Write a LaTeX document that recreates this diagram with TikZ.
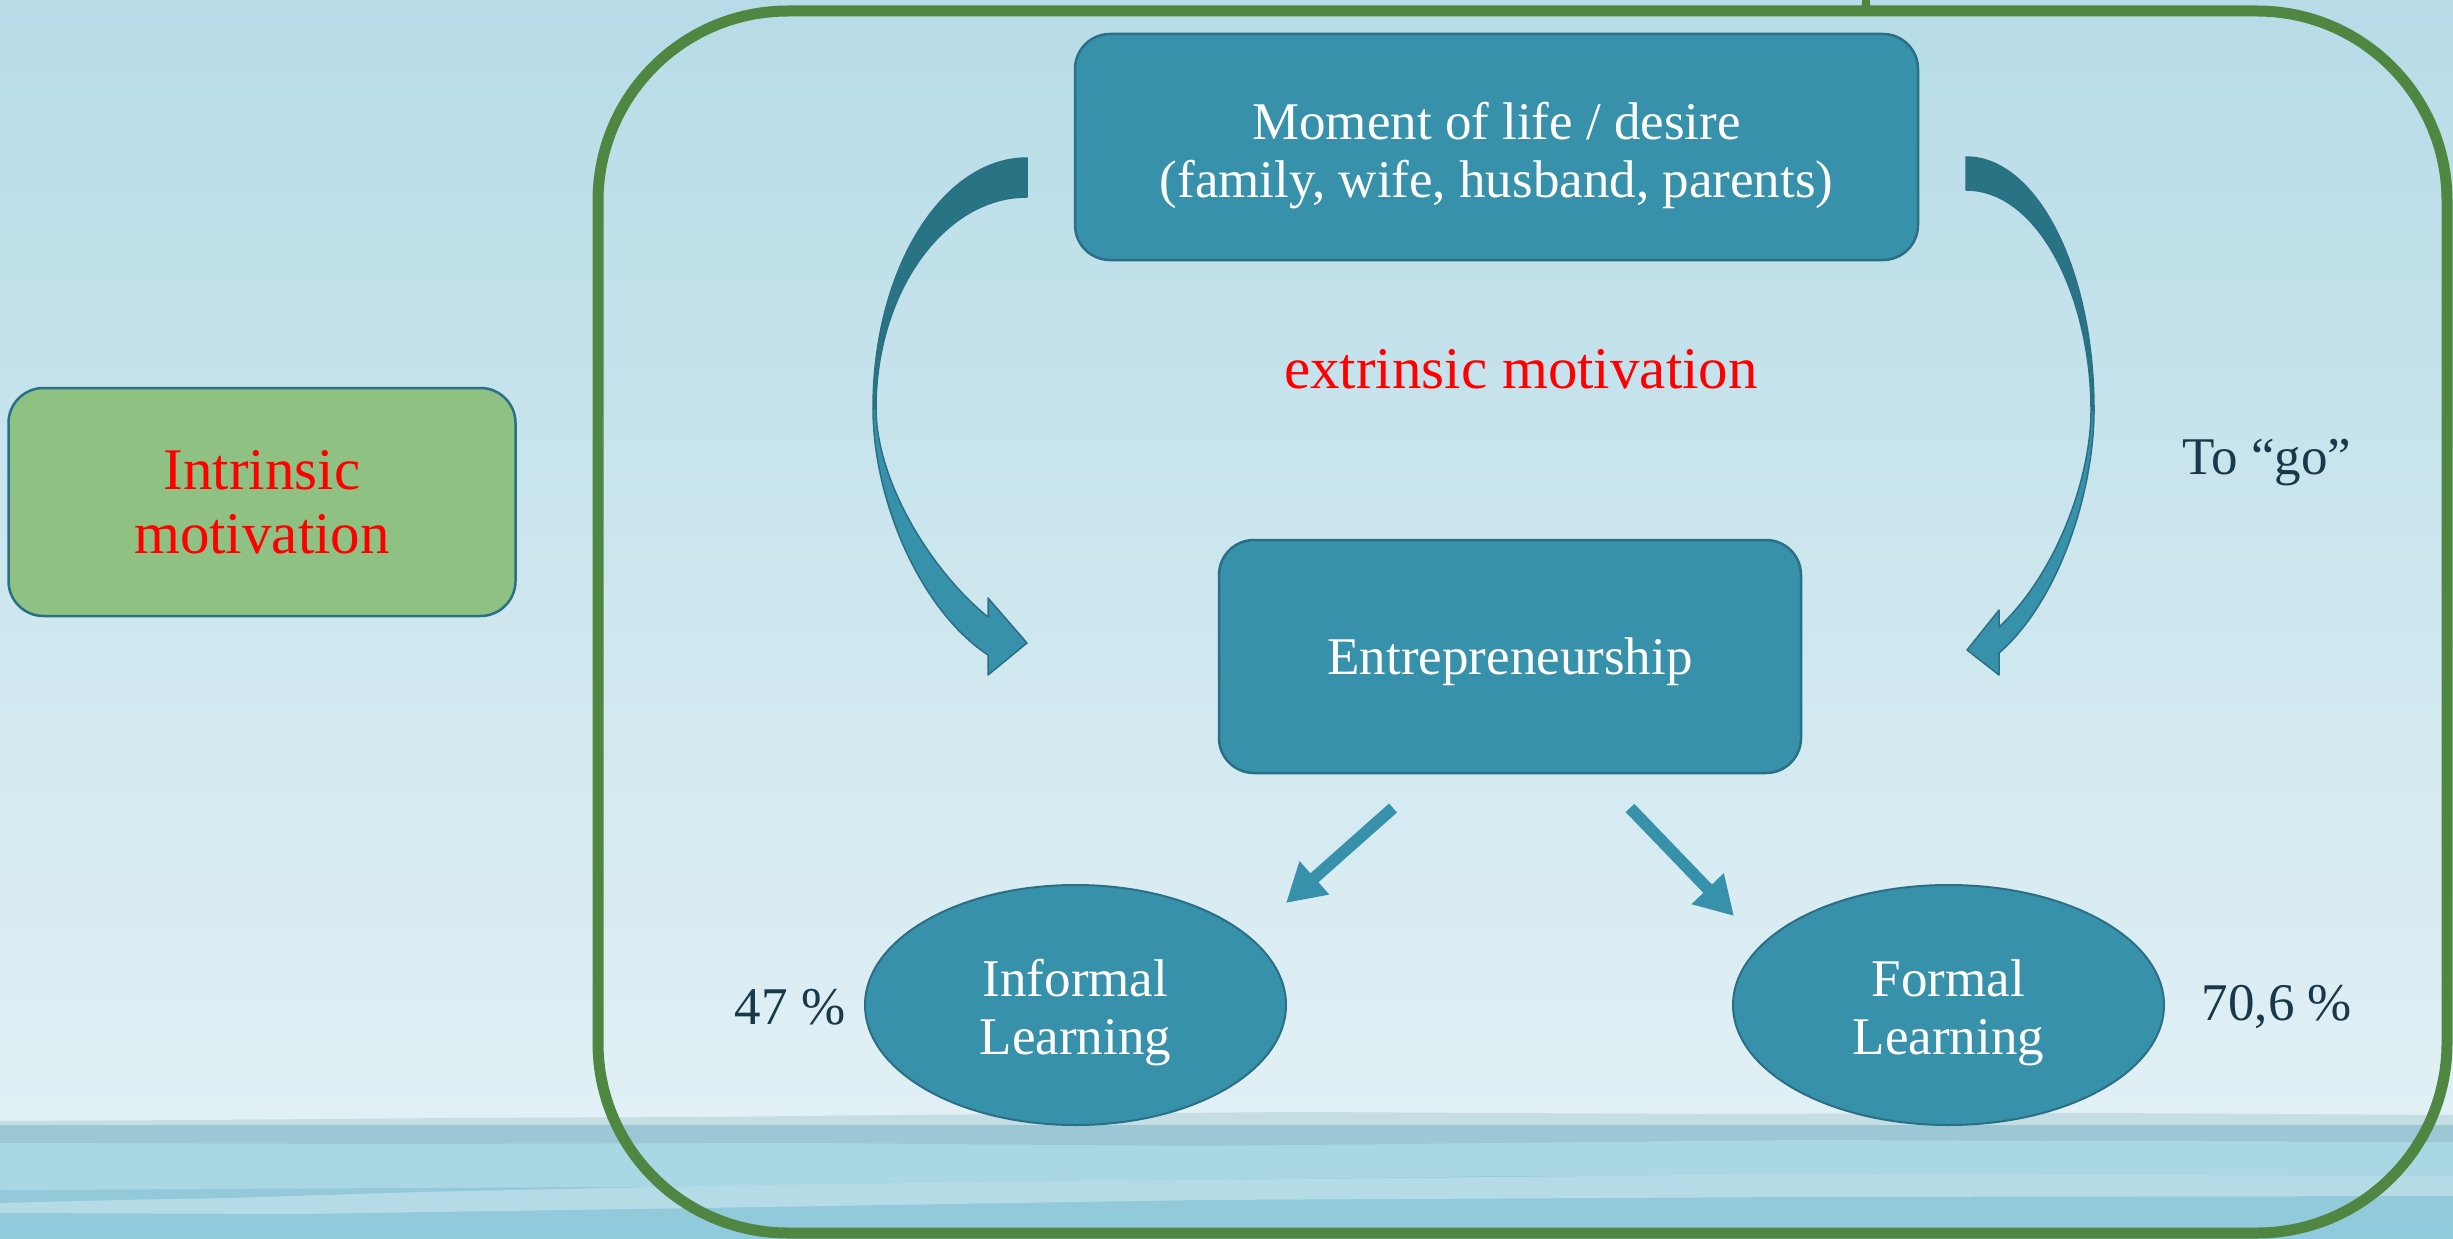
\documentclass[tikz,border=0pt]{standalone}
\usepackage{fontspec}
\setmainfont{Liberation Serif}
\usetikzlibrary{arrows.meta,shapes.geometric}
\definecolor{boxfill}{HTML}{3891AB}
\definecolor{boxline}{HTML}{2B6F84}
\definecolor{arrdark}{HTML}{287485}
\definecolor{frameg}{HTML}{4F8641}
\definecolor{greenfill}{HTML}{8FC183}
\definecolor{darktext}{HTML}{17394A}
\definecolor{bgtop}{HTML}{B7DCE7}
\definecolor{bgbot}{HTML}{E1F0F5}
\definecolor{wtop}{HTML}{C5DEE4}
\definecolor{wdark}{HTML}{9CC7D4}
\definecolor{wmid}{HTML}{A9D8E4}
\definecolor{wdeep}{HTML}{8ECBDD}
\definecolor{wlight}{HTML}{B5DCE6}
\begin{document}
\begin{tikzpicture}[x=1pt,y=-1pt,
  basefont/.style={font=\fontsize{53}{58}\selectfont},
  redfont/.style={font=\fontsize{59}{64}\selectfont, text=red},
  bluebox/.style={draw=boxline, line width=2.5pt, fill=boxfill, rounded corners=35pt,
     text=white, align=center, basefont, inner sep=0pt},
  greenbox/.style={draw=boxline, line width=2.5pt, fill=greenfill, rounded corners=35pt,
     align=center, redfont, inner sep=0pt},
  learnell/.style={ellipse, draw=boxline, line width=2pt, fill=boxfill, text=white,
     align=center, basefont, inner sep=0pt},
  plainlabel/.style={basefont, text=darktext, inner sep=0pt},
  straightarr/.style={draw=boxfill, line width=12pt, -{Triangle[length=38pt,width=42pt]}},
  curvedark/.style={fill=arrdark, draw=boxline, line width=1.5pt, line join=round},
  curvelight/.style={fill=boxfill, draw=boxline, line width=1.5pt, line join=round}
]
\useasboundingbox (0,0) rectangle (2453,1239);
% background
\shade[top color=bgtop, bottom color=bgbot] (0,0) rectangle (2453,1124);
% water
\shade[top color=wdark, bottom color=wdeep] (0,1124) rectangle (2453,1239);
\fill[wtop] (0,1126) -- (0,1121) -- (200,1120) -- (450,1118) -- (700,1117) -- (900,1115)
  -- (1300,1112) -- (1700,1114) -- (2100,1113) -- (2453,1115) -- (2453,1126) -- cycle;
\fill[wdark] (0,1125) -- (2453,1125) -- (2453,1142) -- (1800,1140) -- (1200,1146)
  -- (800,1143) -- (400,1144) -- (0,1143) -- cycle;
\fill[wmid] (0,1143) -- (400,1144) -- (800,1143) -- (1200,1146) -- (1800,1140) -- (2453,1142)
  -- (2453,1180) -- (1500,1176) -- (800,1186) -- (0,1190) -- cycle;
\fill[wlight] (0,1203) -- (120,1200) -- (230,1198) -- (420,1192) -- (700,1186)
  -- (1000,1182) -- (1400,1178) -- (1800,1174) -- (2453,1176) -- (2453,1196)
  -- (1800,1197) -- (1200,1200) -- (700,1208) -- (300,1214) -- (0,1213) -- cycle;
% outer frame
\fill[frameg] (1862,0) rectangle (1870,8);
\fill[frameg] (1855,11) .. controls (1862,9) and (1862,5) .. (1862,2) -- (1870,2)
  .. controls (1870,5) and (1870,9) .. (1877,11) -- cycle;
\draw[frameg, line width=11pt, rounded corners=190pt] (598,11) rectangle (2447,1233);

% nodes
\node[bluebox, minimum width=843pt, minimum height=226pt] (moment) at (1496.5,147)
  {\rule{0pt}{54pt}Moment of life / desire\\(family, wife, husband, parents)};
\node[bluebox, minimum width=582pt, minimum height=233pt] (entre) at (1510,656.5)
  {\rule{0pt}{48pt}Entrepreneurship};
\node[greenbox, minimum width=507pt, minimum height=228pt] (intr) at (262,502)
  {\rule{0pt}{40pt}Intrinsic\\motivation};
\node[learnell, minimum width=421pt, minimum height=240pt] (informal) at (1075.5,1005)
  {\rule{0pt}{52pt}Informal\\Learning};
\node[learnell, minimum width=431pt, minimum height=240pt] (formal) at (1948.5,1005)
  {\rule{0pt}{52pt}Formal\\Learning};
\node[redfont] (extr) at (1521,369) {extrinsic motivation};
\node[plainlabel] (togo) at (2267,463) {To “go”};
\node[plainlabel] (p47) at (790,1007) {47 \%};
\node[plainlabel] (p706) at (2277,1007) {70,6 \%};

% left curved arrow
\path[curvedark] (1027,158) .. controls (942,158) and (873,270) .. (873,408)
  -- (876,408) .. controls (876,292) and (944,197) .. (1027,197) -- cycle;
\path[curvelight] (873,408) .. controls (873,500) and (920,610) .. (988,655)
  -- (988,675) -- (1027,643) -- (988,598) -- (988,617)
  .. controls (930,570) and (876,480) .. (876,408) -- cycle;
% right curved arrow
\path[curvedark] (1966,157) .. controls (2037,157) and (2094,270) .. (2094,410)
  -- (2091,410) .. controls (2091,300) and (2040,190) .. (1966,190) -- cycle;
\path[curvelight] (2094,410) .. controls (2094,490) and (2060,600) .. (1999,653)
  -- (1999,675) -- (1967,650) -- (1999,610) -- (1999,627)
  .. controls (2055,575) and (2091,480) .. (2091,410) -- cycle;

% straight arrows
\coordinate (la1) at (1393,808);
\coordinate (la2) at (1286,903);
\coordinate (ra1) at (1630,808);
\coordinate (ra2) at (1734,916);
\draw[straightarr] (la1) -- (la2);
\draw[straightarr] (ra1) -- (ra2);
\end{tikzpicture}
\end{document}
